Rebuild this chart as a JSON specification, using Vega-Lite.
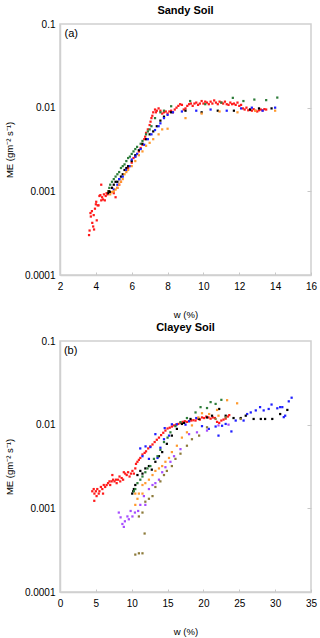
{
  "$schema": "https://vega.github.io/schema/vega-lite/v6.json",
  "padding": {"left": 3, "top": 4, "right": 6, "bottom": 2},
  "background": "white",
  "config": {
    "font": "Liberation Sans",
    "view": {"stroke": "#d0d0d0", "strokeWidth": 1.5},
    "title": {"fontSize": 11, "fontWeight": "bold", "color": "#000", "offset": 3},
    "axis": {"grid": false, "domainColor": "#d0d0d0", "domainWidth": 1.5, "tickColor": "#c8c8c8", "labelFontSize": 10, "labelColor": "#000", "titleFontSize": 9.5, "titleFontWeight": "normal", "titleColor": "#000", "labelOverlap": false, "labelFlush": false},
    "concat": {"spacing": 1}
  },
  "datasets": {
    "sandy": [
      {"w":3.62,"me":0.0003,"s":"red"},{"w":3.65,"me":0.00034,"s":"red"},{"w":3.7,"me":0.00055,"s":"red"},{"w":3.72,"me":0.0005,"s":"red"},{"w":3.78,"me":0.00058,"s":"red"},{"w":3.8,"me":0.00042,"s":"red"},{"w":3.85,"me":0.00038,"s":"red"},{"w":3.88,"me":0.00052,"s":"red"},{"w":3.9,"me":0.00035,"s":"red"},{"w":3.95,"me":0.00062,"s":"red"},{"w":4.0,"me":0.0007,"s":"red"},{"w":4.02,"me":0.00075,"s":"red"},{"w":4.05,"me":0.00045,"s":"red"},{"w":4.1,"me":0.00068,"s":"red"},{"w":4.15,"me":0.00068,"s":"red"},{"w":4.2,"me":0.00088,"s":"red"},{"w":4.25,"me":0.0009,"s":"red"},{"w":4.3,"me":0.0012,"s":"red"},{"w":4.3,"me":0.00078,"s":"red"},{"w":4.35,"me":0.00085,"s":"red"},{"w":4.4,"me":0.0008,"s":"red"},{"w":4.45,"me":0.00092,"s":"red"},{"w":4.5,"me":0.00078,"s":"red"},{"w":4.55,"me":0.00088,"s":"red"},{"w":4.6,"me":0.00095,"s":"red"},{"w":4.65,"me":0.00092,"s":"red"},{"w":4.7,"me":0.001,"s":"red"},{"w":4.8,"me":0.00098,"s":"red"},{"w":4.9,"me":0.0011,"s":"red"},{"w":5.0,"me":0.00095,"s":"red"},{"w":5.1,"me":0.00085,"s":"red"},{"w":5.2,"me":0.0011,"s":"red"},{"w":5.3,"me":0.0012,"s":"red"},{"w":5.4,"me":0.0013,"s":"red"},{"w":5.8,"me":0.0019,"s":"red"},{"w":6.0,"me":0.0022,"s":"red"},{"w":6.1,"me":0.0025,"s":"red"},{"w":6.2,"me":0.0026,"s":"red"},{"w":6.3,"me":0.0028,"s":"red"},{"w":6.4,"me":0.003,"s":"red"},{"w":6.5,"me":0.0033,"s":"red"},{"w":6.6,"me":0.0036,"s":"red"},{"w":6.7,"me":0.0042,"s":"red"},{"w":6.75,"me":0.0045,"s":"red"},{"w":6.8,"me":0.005,"s":"red"},{"w":6.9,"me":0.0055,"s":"red"},{"w":7.0,"me":0.0062,"s":"red"},{"w":7.05,"me":0.0068,"s":"red"},{"w":7.1,"me":0.0075,"s":"red"},{"w":7.15,"me":0.008,"s":"red"},{"w":7.2,"me":0.0088,"s":"red"},{"w":7.3,"me":0.0095,"s":"red"},{"w":7.35,"me":0.0088,"s":"red"},{"w":7.4,"me":0.0092,"s":"red"},{"w":7.5,"me":0.0098,"s":"red"},{"w":7.6,"me":0.0092,"s":"red"},{"w":7.7,"me":0.0085,"s":"red"},{"w":7.8,"me":0.0088,"s":"red"},{"w":7.9,"me":0.009,"s":"red"},{"w":8.0,"me":0.0085,"s":"red"},{"w":8.1,"me":0.009,"s":"red"},{"w":8.2,"me":0.0092,"s":"red"},{"w":8.3,"me":0.0088,"s":"red"},{"w":8.4,"me":0.0095,"s":"red"},{"w":8.5,"me":0.01,"s":"red"},{"w":8.6,"me":0.0105,"s":"red"},{"w":8.7,"me":0.011,"s":"red"},{"w":8.8,"me":0.0108,"s":"red"},{"w":8.9,"me":0.0095,"s":"red"},{"w":9.0,"me":0.0098,"s":"red"},{"w":9.1,"me":0.0105,"s":"red"},{"w":9.2,"me":0.011,"s":"red"},{"w":9.3,"me":0.0112,"s":"red"},{"w":9.4,"me":0.0105,"s":"red"},{"w":9.5,"me":0.0112,"s":"red"},{"w":9.6,"me":0.0115,"s":"red"},{"w":9.7,"me":0.0108,"s":"red"},{"w":9.8,"me":0.0112,"s":"red"},{"w":9.9,"me":0.012,"s":"red"},{"w":10.0,"me":0.0112,"s":"red"},{"w":10.1,"me":0.0118,"s":"red"},{"w":10.2,"me":0.0115,"s":"red"},{"w":10.3,"me":0.011,"s":"red"},{"w":10.4,"me":0.0118,"s":"red"},{"w":10.5,"me":0.0112,"s":"red"},{"w":10.6,"me":0.0122,"s":"red"},{"w":10.7,"me":0.0115,"s":"red"},{"w":10.8,"me":0.011,"s":"red"},{"w":10.9,"me":0.0118,"s":"red"},{"w":11.0,"me":0.0115,"s":"red"},{"w":11.1,"me":0.0112,"s":"red"},{"w":11.2,"me":0.0118,"s":"red"},{"w":11.3,"me":0.011,"s":"red"},{"w":11.4,"me":0.0108,"s":"red"},{"w":11.5,"me":0.0115,"s":"red"},{"w":11.6,"me":0.011,"s":"red"},{"w":11.7,"me":0.0112,"s":"red"},{"w":11.8,"me":0.0108,"s":"red"},{"w":11.9,"me":0.0115,"s":"red"},{"w":12.0,"me":0.0105,"s":"red"},{"w":12.1,"me":0.0108,"s":"red"},{"w":12.2,"me":0.0098,"s":"red"},{"w":12.3,"me":0.0095,"s":"red"},{"w":12.4,"me":0.01,"s":"red"},{"w":12.5,"me":0.0093,"s":"red"},{"w":12.6,"me":0.0095,"s":"red"},{"w":12.7,"me":0.0092,"s":"red"},{"w":12.8,"me":0.0096,"s":"red"},{"w":12.9,"me":0.0092,"s":"red"},{"w":13.0,"me":0.009,"s":"red"},{"w":13.1,"me":0.0093,"s":"red"},{"w":13.2,"me":0.0095,"s":"red"},{"w":13.3,"me":0.0093,"s":"red"},{"w":13.4,"me":0.0096,"s":"red"},{"w":13.5,"me":0.0095,"s":"red"},
      {"w":4.7,"me":0.001,"s":"green"},{"w":4.75,"me":0.0011,"s":"green"},{"w":4.8,"me":0.0012,"s":"green"},{"w":4.9,"me":0.0013,"s":"green"},{"w":5.0,"me":0.0014,"s":"green"},{"w":5.1,"me":0.0015,"s":"green"},{"w":5.2,"me":0.0016,"s":"green"},{"w":5.3,"me":0.0017,"s":"green"},{"w":5.4,"me":0.0019,"s":"green"},{"w":5.5,"me":0.002,"s":"green"},{"w":5.6,"me":0.0021,"s":"green"},{"w":5.7,"me":0.0023,"s":"green"},{"w":5.8,"me":0.0025,"s":"green"},{"w":5.9,"me":0.0026,"s":"green"},{"w":6.0,"me":0.0028,"s":"green"},{"w":6.1,"me":0.003,"s":"green"},{"w":6.2,"me":0.0032,"s":"green"},{"w":6.3,"me":0.0034,"s":"green"},{"w":6.5,"me":0.0037,"s":"green"},{"w":6.6,"me":0.004,"s":"green"},{"w":6.8,"me":0.0048,"s":"green"},{"w":6.9,"me":0.0052,"s":"green"},{"w":7.0,"me":0.0055,"s":"green"},{"w":7.1,"me":0.006,"s":"green"},{"w":7.3,"me":0.0075,"s":"green"},{"w":7.6,"me":0.0088,"s":"green"},{"w":7.8,"me":0.0092,"s":"green"},{"w":8.2,"me":0.0104,"s":"green"},{"w":9.26,"me":0.012,"s":"green"},{"w":10.1,"me":0.011,"s":"green"},{"w":11.0,"me":0.0115,"s":"green"},{"w":11.64,"me":0.0131,"s":"green"},{"w":12.23,"me":0.012,"s":"green"},{"w":12.84,"me":0.0125,"s":"green"},{"w":13.5,"me":0.0123,"s":"green"},{"w":14.12,"me":0.0132,"s":"green"},
      {"w":4.7,"me":0.00095,"s":"black"},{"w":4.75,"me":0.001,"s":"black"},{"w":4.8,"me":0.00098,"s":"black"},{"w":4.9,"me":0.0011,"s":"black"},{"w":5.0,"me":0.0012,"s":"black"},{"w":5.1,"me":0.0013,"s":"black"},{"w":5.2,"me":0.0013,"s":"black"},{"w":5.3,"me":0.0014,"s":"black"},{"w":5.4,"me":0.0015,"s":"black"},{"w":5.5,"me":0.0016,"s":"black"},{"w":5.6,"me":0.0018,"s":"black"},{"w":5.7,"me":0.0019,"s":"black"},{"w":5.8,"me":0.002,"s":"black"},{"w":6.0,"me":0.0023,"s":"black"},{"w":6.2,"me":0.0027,"s":"black"},{"w":6.4,"me":0.0031,"s":"black"},{"w":6.6,"me":0.0037,"s":"black"},{"w":6.8,"me":0.0042,"s":"black"},{"w":7.0,"me":0.0048,"s":"black"},{"w":7.2,"me":0.0052,"s":"black"},{"w":7.4,"me":0.006,"s":"black"},{"w":7.6,"me":0.007,"s":"black"},{"w":7.8,"me":0.0078,"s":"black"},{"w":8.2,"me":0.0088,"s":"black"},{"w":9.0,"me":0.0092,"s":"black"},{"w":9.9,"me":0.0088,"s":"black"},{"w":10.8,"me":0.0092,"s":"black"},{"w":11.7,"me":0.0092,"s":"black"},{"w":12.6,"me":0.0095,"s":"black"},{"w":13.1,"me":0.0098,"s":"black"},{"w":13.8,"me":0.0098,"s":"black"},
      {"w":5.0,"me":0.00105,"s":"blue"},{"w":5.2,"me":0.0012,"s":"blue"},{"w":5.3,"me":0.0014,"s":"blue"},{"w":5.5,"me":0.0015,"s":"blue"},{"w":5.7,"me":0.0018,"s":"blue"},{"w":5.9,"me":0.002,"s":"blue"},{"w":6.0,"me":0.0024,"s":"blue"},{"w":6.2,"me":0.0026,"s":"blue"},{"w":6.3,"me":0.0028,"s":"blue"},{"w":6.5,"me":0.0032,"s":"blue"},{"w":6.7,"me":0.0036,"s":"blue"},{"w":6.9,"me":0.0042,"s":"blue"},{"w":7.1,"me":0.0048,"s":"blue"},{"w":7.3,"me":0.0054,"s":"blue"},{"w":7.5,"me":0.006,"s":"blue"},{"w":7.6,"me":0.0065,"s":"blue"},{"w":7.8,"me":0.0075,"s":"blue"},{"w":8.0,"me":0.0082,"s":"blue"},{"w":8.3,"me":0.0088,"s":"blue"},{"w":8.8,"me":0.009,"s":"blue"},{"w":9.6,"me":0.0092,"s":"blue"},{"w":10.4,"me":0.0095,"s":"blue"},{"w":11.3,"me":0.0092,"s":"blue"},{"w":12.1,"me":0.0098,"s":"blue"},{"w":12.7,"me":0.01,"s":"blue"},{"w":13.3,"me":0.0092,"s":"blue"},{"w":14.0,"me":0.01,"s":"blue"},
      {"w":4.8,"me":0.00092,"s":"orange"},{"w":4.9,"me":0.00098,"s":"orange"},{"w":5.0,"me":0.001,"s":"orange"},{"w":5.1,"me":0.00105,"s":"orange"},{"w":5.2,"me":0.0011,"s":"orange"},{"w":5.3,"me":0.0012,"s":"orange"},{"w":5.4,"me":0.0013,"s":"orange"},{"w":5.5,"me":0.0014,"s":"orange"},{"w":5.6,"me":0.0016,"s":"orange"},{"w":5.7,"me":0.0017,"s":"orange"},{"w":5.8,"me":0.0018,"s":"orange"},{"w":6.0,"me":0.002,"s":"orange"},{"w":6.2,"me":0.0023,"s":"orange"},{"w":6.4,"me":0.0027,"s":"orange"},{"w":6.6,"me":0.003,"s":"orange"},{"w":6.8,"me":0.0035,"s":"orange"},{"w":7.0,"me":0.0038,"s":"orange"},{"w":7.2,"me":0.0042,"s":"orange"},{"w":7.5,"me":0.0048,"s":"orange"},{"w":7.7,"me":0.0055,"s":"orange"},{"w":8.0,"me":0.0056,"s":"orange"},{"w":9.0,"me":0.0075,"s":"orange"},{"w":9.9,"me":0.0085,"s":"orange"},{"w":10.9,"me":0.009,"s":"orange"},{"w":11.9,"me":0.0088,"s":"orange"},{"w":12.9,"me":0.0092,"s":"orange"},{"w":14.0,"me":0.0092,"s":"orange"}
    ],
    "clayey": [
      {"w":4.5,"me":0.0016,"s":"red"},{"w":4.78,"me":0.00123,"s":"red"},{"w":4.7,"me":0.0017,"s":"red"},{"w":4.8,"me":0.0015,"s":"red"},{"w":5.0,"me":0.0016,"s":"red"},{"w":5.1,"me":0.0014,"s":"red"},{"w":5.2,"me":0.0017,"s":"red"},{"w":5.4,"me":0.0015,"s":"red"},{"w":5.5,"me":0.0016,"s":"red"},{"w":5.7,"me":0.0018,"s":"red"},{"w":5.9,"me":0.0017,"s":"red"},{"w":6.0,"me":0.0015,"s":"red"},{"w":6.1,"me":0.0019,"s":"red"},{"w":6.3,"me":0.0018,"s":"red"},{"w":6.5,"me":0.0019,"s":"red"},{"w":6.7,"me":0.002,"s":"red"},{"w":6.9,"me":0.0021,"s":"red"},{"w":7.0,"me":0.0019,"s":"red"},{"w":7.2,"me":0.0021,"s":"red"},{"w":7.3,"me":0.0025,"s":"red"},{"w":7.4,"me":0.0022,"s":"red"},{"w":7.6,"me":0.0021,"s":"red"},{"w":7.8,"me":0.0022,"s":"red"},{"w":7.9,"me":0.002,"s":"red"},{"w":8.1,"me":0.0022,"s":"red"},{"w":8.3,"me":0.0024,"s":"red"},{"w":8.4,"me":0.0021,"s":"red"},{"w":8.6,"me":0.0023,"s":"red"},{"w":8.8,"me":0.0022,"s":"red"},{"w":8.9,"me":0.0027,"s":"red"},{"w":9.1,"me":0.0026,"s":"red"},{"w":9.3,"me":0.0025,"s":"red"},{"w":9.5,"me":0.0027,"s":"red"},{"w":9.7,"me":0.0024,"s":"red"},{"w":9.9,"me":0.0026,"s":"red"},{"w":10.1,"me":0.0028,"s":"red"},{"w":10.3,"me":0.0026,"s":"red"},{"w":10.5,"me":0.003,"s":"red"},{"w":10.6,"me":0.0034,"s":"red"},{"w":10.8,"me":0.0036,"s":"red"},{"w":11.0,"me":0.0038,"s":"red"},{"w":11.2,"me":0.004,"s":"red"},{"w":11.5,"me":0.0044,"s":"red"},{"w":11.8,"me":0.0046,"s":"red"},{"w":12.0,"me":0.0048,"s":"red"},{"w":12.3,"me":0.0052,"s":"red"},{"w":12.6,"me":0.0055,"s":"red"},{"w":12.9,"me":0.0058,"s":"red"},{"w":13.2,"me":0.0062,"s":"red"},{"w":13.5,"me":0.0066,"s":"red"},{"w":13.8,"me":0.007,"s":"red"},{"w":14.1,"me":0.0075,"s":"red"},{"w":14.4,"me":0.008,"s":"red"},{"w":14.7,"me":0.0085,"s":"red"},{"w":15.0,"me":0.009,"s":"red"},{"w":15.3,"me":0.0092,"s":"red"},{"w":15.6,"me":0.0095,"s":"red"},{"w":15.9,"me":0.0098,"s":"red"},{"w":16.2,"me":0.01,"s":"red"},{"w":16.5,"me":0.0102,"s":"red"},{"w":16.8,"me":0.0105,"s":"red"},{"w":17.1,"me":0.0108,"s":"red"},{"w":17.4,"me":0.011,"s":"red"},{"w":17.7,"me":0.0108,"s":"red"},{"w":18.0,"me":0.011,"s":"red"},{"w":18.3,"me":0.0112,"s":"red"},{"w":18.6,"me":0.0113,"s":"red"},{"w":18.9,"me":0.0112,"s":"red"},{"w":19.2,"me":0.0118,"s":"red"},{"w":19.5,"me":0.0115,"s":"red"},{"w":19.8,"me":0.0122,"s":"red"},{"w":20.1,"me":0.012,"s":"red"},{"w":20.4,"me":0.0125,"s":"red"},{"w":20.7,"me":0.0122,"s":"red"},{"w":21.0,"me":0.0118,"s":"red"},{"w":21.3,"me":0.0122,"s":"red"},{"w":21.6,"me":0.012,"s":"red"},{"w":21.9,"me":0.0108,"s":"red"},{"w":22.2,"me":0.0105,"s":"red"},{"w":22.5,"me":0.0112,"s":"red"},{"w":22.8,"me":0.0115,"s":"red"},{"w":23.1,"me":0.0118,"s":"red"},{"w":23.4,"me":0.0125,"s":"red"},{"w":23.6,"me":0.013,"s":"red"},
      {"w":11.19,"me":0.0052,"s":"blue"},{"w":11.93,"me":0.0055,"s":"blue"},{"w":12.6,"me":0.0054,"s":"blue"},{"w":11.5,"me":0.0042,"s":"blue"},{"w":12.4,"me":0.0039,"s":"blue"},{"w":13.6,"me":0.004,"s":"blue"},{"w":14.0,"me":0.0053,"s":"blue"},{"w":13.3,"me":0.0077,"s":"blue"},{"w":14.5,"me":0.0067,"s":"blue"},{"w":15.2,"me":0.0074,"s":"blue"},{"w":14.6,"me":0.0091,"s":"blue"},{"w":15.6,"me":0.0101,"s":"blue"},{"w":16.3,"me":0.0101,"s":"blue"},{"w":17.5,"me":0.01,"s":"blue"},{"w":18.0,"me":0.011,"s":"blue"},{"w":19.0,"me":0.012,"s":"blue"},{"w":19.8,"me":0.0096,"s":"blue"},{"w":20.75,"me":0.0089,"s":"blue"},{"w":21.7,"me":0.0095,"s":"blue"},{"w":22.1,"me":0.0074,"s":"blue"},{"w":22.6,"me":0.0097,"s":"blue"},{"w":23.1,"me":0.0102,"s":"blue"},{"w":23.9,"me":0.0083,"s":"blue"},{"w":24.5,"me":0.0112,"s":"blue"},{"w":25.6,"me":0.0112,"s":"blue"},{"w":26.1,"me":0.0134,"s":"blue"},{"w":26.6,"me":0.014,"s":"blue"},{"w":27.3,"me":0.0148,"s":"blue"},{"w":27.9,"me":0.0162,"s":"blue"},{"w":28.4,"me":0.0148,"s":"blue"},{"w":29.1,"me":0.0154,"s":"blue"},{"w":29.5,"me":0.0174,"s":"blue"},{"w":30.3,"me":0.0157,"s":"blue"},{"w":30.7,"me":0.0162,"s":"blue"},{"w":31.0,"me":0.0162,"s":"blue"},{"w":31.2,"me":0.0123,"s":"blue"},{"w":31.4,"me":0.0128,"s":"blue"},{"w":31.9,"me":0.019,"s":"blue"},{"w":32.3,"me":0.021,"s":"blue"},
      {"w":10.07,"me":0.0015,"s":"black"},{"w":10.3,"me":0.0017,"s":"black"},{"w":10.5,"me":0.0019,"s":"black"},{"w":10.2,"me":0.0016,"s":"black"},{"w":10.8,"me":0.0025,"s":"black"},{"w":11.2,"me":0.0028,"s":"black"},{"w":11.5,"me":0.0026,"s":"black"},{"w":11.9,"me":0.003,"s":"black"},{"w":12.4,"me":0.0032,"s":"black"},{"w":12.8,"me":0.0029,"s":"black"},{"w":13.3,"me":0.0036,"s":"black"},{"w":13.8,"me":0.0042,"s":"black"},{"w":14.25,"me":0.0047,"s":"black"},{"w":14.9,"me":0.0059,"s":"black"},{"w":15.6,"me":0.0074,"s":"black"},{"w":16.3,"me":0.0089,"s":"black"},{"w":17.0,"me":0.0102,"s":"black"},{"w":17.3,"me":0.0105,"s":"black"},{"w":18.2,"me":0.0117,"s":"black"},{"w":19.4,"me":0.0117,"s":"black"},{"w":20.5,"me":0.0122,"s":"black"},{"w":21.2,"me":0.0128,"s":"black"},{"w":22.2,"me":0.0154,"s":"black"},{"w":23.1,"me":0.0128,"s":"black"},{"w":24.2,"me":0.012,"s":"black"},{"w":25.2,"me":0.012,"s":"black"},{"w":25.9,"me":0.0128,"s":"black"},{"w":27.0,"me":0.0117,"s":"black"},{"w":28.0,"me":0.0117,"s":"black"},{"w":28.6,"me":0.0117,"s":"black"},{"w":29.6,"me":0.0117,"s":"black"},{"w":30.7,"me":0.0134,"s":"black"},{"w":31.7,"me":0.015,"s":"black"},
      {"w":10.3,"me":0.0016,"s":"green"},{"w":10.5,"me":0.0017,"s":"green"},{"w":10.8,"me":0.002,"s":"green"},{"w":11.2,"me":0.0022,"s":"green"},{"w":11.5,"me":0.0024,"s":"green"},{"w":11.9,"me":0.0027,"s":"green"},{"w":12.2,"me":0.003,"s":"green"},{"w":12.6,"me":0.0032,"s":"green"},{"w":13.1,"me":0.0039,"s":"green"},{"w":13.6,"me":0.0042,"s":"green"},{"w":14.0,"me":0.005,"s":"green"},{"w":14.5,"me":0.0062,"s":"green"},{"w":15.0,"me":0.007,"s":"green"},{"w":15.4,"me":0.0081,"s":"green"},{"w":16.1,"me":0.0096,"s":"green"},{"w":16.8,"me":0.0107,"s":"green"},{"w":17.7,"me":0.012,"s":"green"},{"w":18.9,"me":0.014,"s":"green"},{"w":19.6,"me":0.0162,"s":"green"},{"w":20.5,"me":0.0158,"s":"green"},{"w":21.0,"me":0.0186,"s":"green"},{"w":21.7,"me":0.0177,"s":"green"},{"w":22.5,"me":0.0198,"s":"green"},
      {"w":10.5,"me":0.0015,"s":"orange"},{"w":11.0,"me":0.0015,"s":"orange"},{"w":11.5,"me":0.0015,"s":"orange"},{"w":10.5,"me":0.0011,"s":"orange"},{"w":10.8,"me":0.0013,"s":"orange"},{"w":11.5,"me":0.0019,"s":"orange"},{"w":11.9,"me":0.002,"s":"orange"},{"w":12.4,"me":0.0022,"s":"orange"},{"w":12.9,"me":0.0025,"s":"orange"},{"w":13.3,"me":0.0028,"s":"orange"},{"w":13.8,"me":0.003,"s":"orange"},{"w":14.25,"me":0.0032,"s":"orange"},{"w":14.7,"me":0.0036,"s":"orange"},{"w":15.2,"me":0.004,"s":"orange"},{"w":15.6,"me":0.0047,"s":"orange"},{"w":16.3,"me":0.0056,"s":"orange"},{"w":17.0,"me":0.007,"s":"orange"},{"w":17.7,"me":0.0081,"s":"orange"},{"w":18.4,"me":0.0098,"s":"orange"},{"w":19.3,"me":0.0122,"s":"orange"},{"w":19.8,"me":0.0137,"s":"orange"},{"w":20.8,"me":0.0134,"s":"orange"},{"w":21.9,"me":0.015,"s":"orange"},{"w":22.1,"me":0.0128,"s":"orange"},{"w":23.3,"me":0.0196,"s":"orange"},{"w":24.7,"me":0.018,"s":"orange"},
      {"w":8.2,"me":0.00089,"s":"purple"},{"w":8.45,"me":0.00078,"s":"purple"},{"w":8.7,"me":0.00065,"s":"purple"},{"w":8.9,"me":0.0006,"s":"purple"},{"w":9.05,"me":0.0007,"s":"purple"},{"w":9.4,"me":0.0008,"s":"purple"},{"w":9.6,"me":0.00074,"s":"purple"},{"w":9.85,"me":0.00093,"s":"purple"},{"w":10.1,"me":0.0008,"s":"purple"},{"w":10.45,"me":0.00089,"s":"purple"},{"w":10.9,"me":0.00093,"s":"purple"},{"w":11.2,"me":0.0011,"s":"purple"},{"w":11.7,"me":0.0014,"s":"purple"},{"w":11.9,"me":0.0011,"s":"purple"},{"w":12.4,"me":0.0017,"s":"purple"},{"w":12.9,"me":0.0019,"s":"purple"},{"w":13.3,"me":0.002,"s":"purple"},{"w":13.8,"me":0.0022,"s":"purple"},{"w":14.25,"me":0.0027,"s":"purple"},{"w":14.7,"me":0.0031,"s":"purple"},{"w":15.4,"me":0.0036,"s":"purple"},{"w":15.9,"me":0.0042,"s":"purple"},{"w":16.8,"me":0.0051,"s":"purple"},{"w":18.0,"me":0.0077,"s":"purple"},{"w":19.1,"me":0.0081,"s":"purple"},{"w":20.5,"me":0.0085,"s":"purple"},{"w":22.1,"me":0.0098,"s":"purple"},{"w":23.5,"me":0.01,"s":"purple"},
      {"w":10.5,"me":0.00028,"s":"olive"},{"w":11.0,"me":0.00029,"s":"olive"},{"w":11.5,"me":0.00029,"s":"olive"},{"w":11.8,"me":0.0005,"s":"olive"},{"w":11.0,"me":0.0008,"s":"olive"},{"w":11.5,"me":0.00089,"s":"olive"},{"w":11.9,"me":0.0012,"s":"olive"},{"w":12.4,"me":0.0013,"s":"olive"},{"w":12.9,"me":0.0014,"s":"olive"},{"w":13.3,"me":0.0018,"s":"olive"},{"w":14.0,"me":0.0021,"s":"olive"},{"w":14.5,"me":0.0025,"s":"olive"},{"w":14.9,"me":0.0028,"s":"olive"},{"w":15.6,"me":0.0032,"s":"olive"},{"w":16.1,"me":0.0039,"s":"olive"},{"w":16.8,"me":0.0045,"s":"olive"},{"w":17.7,"me":0.0056,"s":"olive"},{"w":18.4,"me":0.0067,"s":"olive"},{"w":19.4,"me":0.0074,"s":"olive"},{"w":20.5,"me":0.0093,"s":"olive"},{"w":21.7,"me":0.0117,"s":"olive"},{"w":23.1,"me":0.0122,"s":"olive"},{"w":25.2,"me":0.0117,"s":"olive"}
    ],
    "labA": [{"w":2.25,"me":0.075,"t":"(a)"}],
    "labB": [{"w":0.55,"me":0.075,"t":"(b)"}]
  },
  "vconcat": [
    {
      "title": "Sandy Soil",
      "width": 251, "height": 251,
      "resolve": {"axis": {"y": "independent", "x": "independent"}},
      "layer": [
        {
          "data": {"name": "sandy"},
          "mark": {"type": "square", "size": 5, "opacity": 1},
          "encoding": {
            "x": {"field": "w", "type": "quantitative", "scale": {"domain": [2, 16], "nice": false}, "axis": {"title": "w (%)", "values": [2,4,6,8,10,12,14,16], "labelOverlap": false, "labelFlush": false, "labelBound": false, "tickSize": -3, "labelPadding": 9, "titlePadding": 18}},
            "y": {"field": "me", "type": "quantitative", "scale": {"type": "log", "domain": [0.0001, 0.1], "nice": false}, "axis": {"title": "ME (gm⁻² s⁻¹)", "values": [0.0001, 0.001, 0.01, 0.1], "format": "~g", "labelOverlap": false, "tickSize": 0, "labelPadding": 5, "titlePadding": 10}},
            "color": {"field": "s", "type": "nominal", "legend": null, "scale": {"domain": ["red","black","blue","green","orange","purple","olive"], "range": ["#ff1a1a","#000000","#1f1fff","#2e7d3a","#ff9a2e","#a64dff","#8c7a3a"]}}
          }
        },
        {
          "data": {"name": "labA"},
          "mark": {"type": "text", "align": "left", "baseline": "middle", "fontSize": 11, "font": "Liberation Sans"},
          "encoding": {"x": {"field": "w", "type": "quantitative", "axis": null}, "y": {"field": "me", "type": "quantitative", "axis": {"orient": "right", "title": null, "labels": false, "values": [0.001, 0.01], "tickSize": -4, "domain": false}}, "text": {"field": "t"}}
        }
      ]
    },
    {
      "title": "Clayey Soil",
      "width": 251, "height": 251,
      "resolve": {"axis": {"y": "independent", "x": "independent"}},
      "layer": [
        {
          "data": {"name": "clayey"},
          "mark": {"type": "square", "size": 5, "opacity": 1},
          "encoding": {
            "x": {"field": "w", "type": "quantitative", "scale": {"domain": [0, 35], "nice": false}, "axis": {"title": "w (%)", "values": [0,5,10,15,20,25,30,35], "labelOverlap": false, "labelFlush": false, "labelBound": false, "tickSize": -3, "labelPadding": 9, "titlePadding": 18}},
            "y": {"field": "me", "type": "quantitative", "scale": {"type": "log", "domain": [0.0001, 0.1], "nice": false}, "axis": {"title": "ME (gm⁻² s⁻¹)", "values": [0.0001, 0.001, 0.01, 0.1], "format": "~g", "labelOverlap": false, "tickSize": 0, "labelPadding": 5, "titlePadding": 10}},
            "color": {"field": "s", "type": "nominal", "legend": null, "scale": {"domain": ["red","black","blue","green","orange","purple","olive"], "range": ["#ff1a1a","#000000","#1f1fff","#2e7d3a","#ff9a2e","#a64dff","#8c7a3a"]}}
          }
        },
        {
          "data": {"name": "labB"},
          "mark": {"type": "text", "align": "left", "baseline": "middle", "fontSize": 11, "font": "Liberation Sans"},
          "encoding": {"x": {"field": "w", "type": "quantitative", "axis": null}, "y": {"field": "me", "type": "quantitative", "axis": {"orient": "right", "title": null, "labels": false, "values": [0.001, 0.01], "tickSize": -4, "domain": false}}, "text": {"field": "t"}}
        }
      ]
    }
  ]
}
